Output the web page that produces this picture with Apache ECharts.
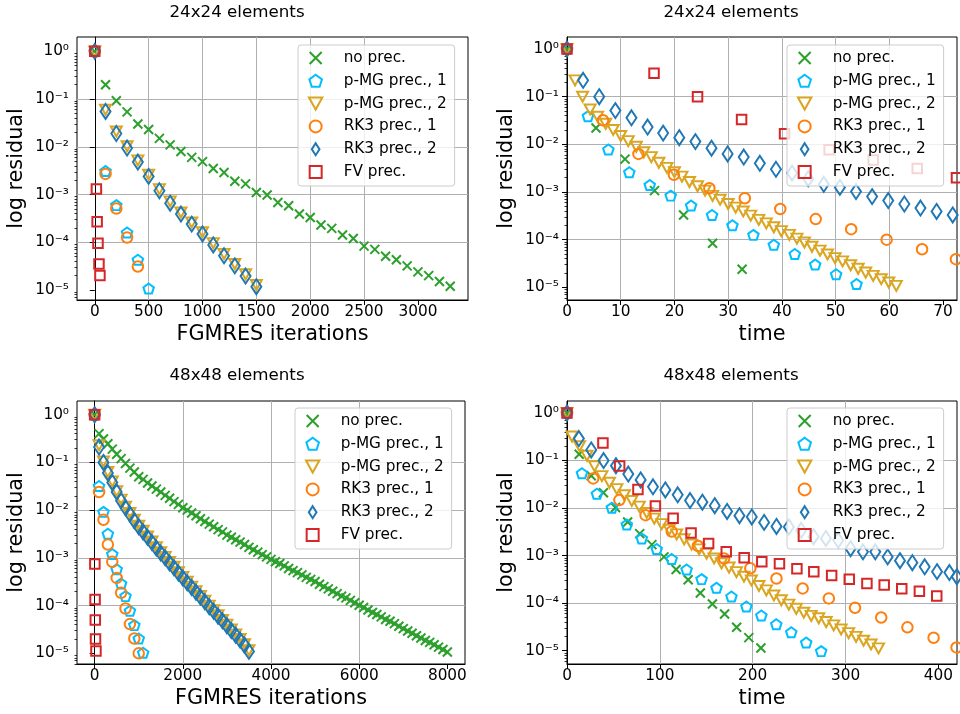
<!DOCTYPE html>
<html><head><meta charset="utf-8">
<script src="https://cdn.jsdelivr.net/npm/echarts@6/dist/echarts.min.js"></script>
<style>html,body{margin:0;padding:0;background:#fff}#c{width:960px;height:714px}</style>
</head><body><div id="c"></div><script>
// ---------------- DATA ----------------
const SERIES_NAMES = ['no prec.', 'p-MG prec., 1', 'p-MG prec., 2', 'RK3 prec., 1', 'RK3 prec., 2', 'FV prec.'];
const TITLES = ['24x24 elements', '24x24 elements', '48x48 elements', '48x48 elements'];
const X_NAMES = ['FGMRES iterations', 'time', 'FGMRES iterations', 'time'];
const Y_NAME = 'log residual';
const X_TICKS = [[0,500,1000,1500,2000,2500,3000],[0,10,20,30,40,50,60,70],[0,2000,4000,6000,8000],[0,100,200,300,400]];
const Y_TICKS = [1e-5,1e-4,1e-3,1e-2,1e-1,1];

// Panel 1: 24x24, iterations
const P1_NOPREC_X = [0,100,200,300,400,500,600,700,800,900,1000,1100,1200,1300,1400,1500,1600,1700,1800,1900,2000,2100,2200,2300,2400,2500,2600,2700,2800,2900,3000,3100,3200,3300];
const P1_NOPREC_Y = [1.0,0.20,0.092,0.054,0.030,0.023,0.015,0.011,0.0080,0.0060,0.0049,0.0035,0.0029,0.0019,0.00167,0.0011,0.00098,0.00068,0.00058,0.00039,0.00033,0.00023,0.000195,0.000142,0.00012,0.000083,0.000071,0.000051,0.000043,0.000032,0.000024,0.000020,0.000015,0.000012];
const P1_PMG1_X = [0,100,200,300,400,500];
const P1_PMG1_Y = [1.0,0.0031,0.0006,0.00016,0.000043,0.0000107];
const P1_PMG2_X = [0,100,200,300,400,500,600,700,800,900,1000,1100,1200,1300,1400,1500];
const P1_PMG2_Y = [1.0,0.06,0.021,0.0103,0.0052,0.0026,0.0013,0.00072,0.00042,0.00026,0.000162,0.000096,0.000057,0.000035,0.0000213,0.0000127];
const P1_RK31_X = [0,100,200,300,400];
const P1_RK31_Y = [1.0,0.0027,0.00051,0.000126,0.000031];
const P1_RK32_X = [0,100,200,300,400,500,600,700,800,900,1000,1100,1200,1300,1400,1500];
const P1_RK32_Y = [1.0,0.055,0.019,0.0094,0.0048,0.0024,0.0012,0.00066,0.00039,0.00024,0.000149,0.000088,0.000052,0.000032,0.0000196,0.0000117];
const P1_FV_X = [0,15,22,30,39,48];
const P1_FV_Y = [1.0,0.0013,0.00027,0.000095,0.000035,0.00002];

// Panel 2: 24x24, time
const P2_NOPREC_X = [0,5.4,10.8,16.3,21.7,27.1,32.6];
const P2_NOPREC_Y = [1.0,0.022,0.0049,0.00107,0.00033,0.000084,0.000024];
const P2_PMG1_X = [0,3.9,7.7,11.6,15.4,19.3,23.1,27.0,30.8,34.7,38.5,42.4,46.2,50.1,53.9];
const P2_PMG1_Y = [1.0,0.039,0.0078,0.0026,0.0014,0.00084,0.00052,0.00033,0.0002,0.000126,0.000078,0.00005,0.00003,0.0000188,0.0000117];
const P2_PMG2_X = [0,1.5,2.9,4.3,5.7,7.2,8.6,10.0,11.4,12.9,14.3,15.7,17.1,18.6,20.0,21.4,22.8,24.3,25.7,27.1,28.5,30.0,31.4,32.8,34.2,35.7,37.1,38.5,39.9,41.4,42.8,44.2,45.6,47.1,48.5,49.9,51.3,52.8,54.2,55.6,57.0,58.5,59.9,61.3];
const P2_PMG2_Y = [1.0,0.22,0.10,0.054,0.038,0.027,0.020,0.015,0.0117,0.0089,0.0068,0.0054,0.0041,0.0032,0.0026,0.0021,0.00162,0.00132,0.00107,0.00083,0.00069,0.00056,0.00047,0.00039,0.00032,0.00026,0.00022,0.000182,0.000151,0.000126,0.000105,0.000087,0.000071,0.000059,0.000049,0.000041,0.000035,0.000029,0.0000245,0.0000204,0.0000174,0.0000148,0.0000126,0.0000107];
const P2_RK31_X = [0,6.7,13.3,19.9,26.5,33.1,39.7,46.3,52.9,59.5,66.1,72.4];
const P2_RK31_Y = [1.0,0.032,0.0063,0.0023,0.0012,0.00074,0.00044,0.00027,0.000166,0.0001,0.000063,0.000039];
const P2_RK32_X = [0,3.0,6.0,9.0,12.0,15.0,17.9,20.9,23.9,26.9,29.9,32.9,35.9,38.9,41.9,44.9,47.8,50.8,53.8,56.8,59.8,62.8,65.8,68.8,71.8];
const P2_RK32_Y = [1.0,0.22,0.10,0.051,0.036,0.023,0.0172,0.0138,0.0114,0.0083,0.0063,0.0054,0.0040,0.0030,0.0025,0.0019,0.00145,0.00125,0.00102,0.0008,0.00066,0.00056,0.00046,0.00039,0.00033];
const P2_FV_X = [0,16.2,24.3,32.5,40.5,48.8,57.0,65.2,72.5];
const P2_FV_Y = [1.0,0.31,0.10,0.033,0.0167,0.0077,0.0047,0.0031,0.002];

// Panel 3: 48x48, iterations
const P3_NOPREC_X = [0,100,200,300,400,500,600,700,800,900,1000,1100,1200,1300,1400,1500,1600,1700,1800,1900,2000,2100,2200,2300,2400,2500,2600,2700,2800,2900,3000,3100,3200,3300,3400,3500,3600,3700,3800,3900,4000,4100,4200,4300,4400,4500,4600,4700,4800,4900,5000,5100,5200,5300,5400,5500,5600,5700,5800,5900,6000,6100,6200,6300,6400,6500,6600,6700,6800,6900,7000,7100,7200,7300,7400,7500,7600,7700,7800,7900,8000];
const P3_NOPREC_Y = [1.0,0.40,0.31,0.245,0.19,0.148,0.12,0.095,0.076,0.063,0.050,0.044,0.037,0.032,0.0275,0.024,0.0204,0.0178,0.0151,0.0132,0.0112,0.0100,0.0087,0.0076,0.0066,0.0058,0.0051,0.0045,0.0039,0.0035,0.0030,0.0027,0.0024,0.00214,0.0019,0.00166,0.00148,0.00132,0.00117,0.00105,0.00093,0.00083,0.00076,0.00068,0.0006,0.00054,0.00049,0.00044,0.00039,0.000355,0.00032,0.00028,0.00025,0.000224,0.0002,0.000178,0.000158,0.000145,0.000129,0.000115,0.000102,0.000091,0.000081,0.000072,0.000065,0.000058,0.000051,0.000047,0.000042,0.000037,0.000033,0.0000295,0.0000263,0.0000234,0.0000209,0.0000186,0.000017,0.0000151,0.0000135,0.000012,0.0000107];
const P3_PMG1_X = [0,100,200,300,400,500,600,700,800,900,1000,1100];
const P3_PMG1_Y = [1.0,0.032,0.0092,0.0032,0.0012,0.00058,0.00029,0.000158,0.000078,0.000039,0.0000205,0.0000103];
const P3_PMG2_X = [0,100,200,300,400,500,600,700,800,900,1000,1100,1200,1300,1400,1500,1600,1700,1800,1900,2000,2100,2200,2300,2400,2500,2600,2700,2800,2900,3000,3100,3200,3300,3400,3500];
const P3_PMG2_Y = [1.0,0.23,0.105,0.063,0.04,0.025,0.0166,0.0118,0.0087,0.0063,0.0047,0.0037,0.0028,0.0022,0.00168,0.00132,0.00105,0.00082,0.00065,0.0005,0.0004,0.000315,0.00025,0.0002,0.000159,0.000126,0.0001,0.00008,0.000063,0.00005,0.00004,0.0000315,0.000025,0.00002,0.0000155,0.0000116];
const P3_RK31_X = [0,100,200,300,400,500,600,700,800,900,1000];
const P3_RK31_Y = [1.0,0.024,0.0063,0.0019,0.00083,0.00038,0.000186,0.000087,0.000041,0.0000205,0.00001];
const P3_RK32_X = [0,100,200,300,400,500,600,700,800,900,1000,1100,1200,1300,1400,1500,1600,1700,1800,1900,2000,2100,2200,2300,2400,2500,2600,2700,2800,2900,3000,3100,3200,3300,3400,3500];
const P3_RK32_Y = [1.0,0.21,0.10,0.060,0.038,0.024,0.0158,0.0112,0.0083,0.0060,0.0045,0.0035,0.0027,0.0021,0.0016,0.00126,0.0010,0.00078,0.00062,0.00048,0.00038,0.0003,0.00024,0.00019,0.000151,0.00012,0.000095,0.000076,0.00006,0.000048,0.000038,0.00003,0.000024,0.000019,0.0000148,0.000011];
const P3_FV_X = [0,5,10,15,20,30];
const P3_FV_Y = [1.0,0.00074,0.000135,0.00005,0.00002,0.0000112];

// Panel 4: 48x48, time
const P4_NOPREC_X = [0,13.1,26.1,39.2,52.2,65.3,78.3,91.4,104.4,117.5,130.5,143.6,156.6,169.7,182.7,195.8,208.8];
const P4_NOPREC_Y = [1.0,0.135,0.048,0.021,0.0103,0.0051,0.0029,0.0017,0.00094,0.00051,0.00031,0.000163,0.000096,0.000059,0.000031,0.0000188,0.0000114];
const P4_PMG1_X = [0,16.1,32.2,48.3,64.4,80.5,96.6,112.7,128.8,144.9,161.0,177.1,193.2,209.3,225.4,241.5,257.6,273.7];
const P4_PMG1_Y = [1.0,0.054,0.020,0.0102,0.0045,0.0023,0.00138,0.00085,0.00051,0.00032,0.00021,0.000138,0.000085,0.000055,0.000036,0.0000245,0.0000148,0.0000098];
const P4_PMG2_X = [0,5.4,13.5,21.5,29.6,37.6,45.7,53.7,61.8,69.8,77.9,85.9,94.0,102.0,110.1,118.1,126.2,134.2,142.3,150.3,158.4,166.4,174.5,182.5,190.6,198.6,206.7,214.7,222.8,230.8,238.9,246.9,255.0,263.0,271.1,279.1,287.2,295.2,303.3,311.3,319.4,327.4,335.5];
const P4_PMG2_Y = [1.0,0.32,0.20,0.126,0.076,0.047,0.034,0.025,0.0186,0.0141,0.0107,0.0079,0.006,0.0046,0.0035,0.0028,0.0022,0.0017,0.00135,0.0011,0.00087,0.00069,0.00056,0.00045,0.00036,0.0003,0.00023,0.000186,0.000145,0.000115,0.000093,0.000076,0.000063,0.000054,0.000048,0.00004,0.000034,0.000028,0.0000234,0.0000195,0.0000162,0.0000135,0.0000112];
const P4_RK31_X = [0,28.2,56.4,84.6,112.8,141.0,169.2,197.4,225.6,253.8,282.0,310.2,338.4,366.6,394.8,419.5];
const P4_RK31_Y = [1.0,0.042,0.0147,0.0071,0.0032,0.0016,0.00087,0.00054,0.00033,0.000204,0.000126,0.00008,0.00005,0.000031,0.0000187,0.0000117];
const P4_RK32_X = [0,12.8,26.1,39.4,52.7,66.0,79.3,92.6,105.9,119.2,132.5,145.8,159.1,172.4,185.7,199.0,212.3,225.6,238.9,252.2,265.5,278.8,292.1,305.4,318.7,332.0,345.3,358.6,371.9,385.2,398.5,411.8,419.8];
const P4_RK32_Y = [1.0,0.29,0.167,0.10,0.078,0.052,0.039,0.028,0.024,0.019,0.0144,0.0133,0.0112,0.0085,0.0069,0.0065,0.005,0.0041,0.004,0.0034,0.0025,0.0023,0.0021,0.0014,0.0012,0.0012,0.00094,0.00078,0.00071,0.00058,0.00046,0.00044,0.00036];
const P4_FV_X = [0,38.7,56.7,76.4,95.2,114.3,133.6,152.5,171.5,190.8,209.8,228.8,247.6,265.8,285.0,304.0,323.0,341.6,360.5,379.5,398.2];
const P4_FV_Y = [1.0,0.234,0.077,0.0247,0.011,0.0061,0.003,0.0018,0.0012,0.0009,0.00074,0.00067,0.00053,0.00046,0.00038,0.00032,0.00026,0.00024,0.0002,0.000178,0.000141];

const PANELS = [
  [[P1_NOPREC_X,P1_NOPREC_Y],[P1_PMG1_X,P1_PMG1_Y],[P1_PMG2_X,P1_PMG2_Y],[P1_RK31_X,P1_RK31_Y],[P1_RK32_X,P1_RK32_Y],[P1_FV_X,P1_FV_Y]],
  [[P2_NOPREC_X,P2_NOPREC_Y],[P2_PMG1_X,P2_PMG1_Y],[P2_PMG2_X,P2_PMG2_Y],[P2_RK31_X,P2_RK31_Y],[P2_RK32_X,P2_RK32_Y],[P2_FV_X,P2_FV_Y]],
  [[P3_NOPREC_X,P3_NOPREC_Y],[P3_PMG1_X,P3_PMG1_Y],[P3_PMG2_X,P3_PMG2_Y],[P3_RK31_X,P3_RK31_Y],[P3_RK32_X,P3_RK32_Y],[P3_FV_X,P3_FV_Y]],
  [[P4_NOPREC_X,P4_NOPREC_Y],[P4_PMG1_X,P4_PMG1_Y],[P4_PMG2_X,P4_PMG2_Y],[P4_RK31_X,P4_RK31_Y],[P4_RK32_X,P4_RK32_Y],[P4_FV_X,P4_FV_Y]]
];

// ---------------- STYLE / LAYOUT ----------------
const FONT = 'DejaVu Sans';
const COLORS = ['#2ca02c','#00bfff','#daa520','#ff7f0e','#1f77b4','#d62728'];
const SYMBOLS = [
  'path://M0,0L10,10M10,0L0,10',
  'path://M50,0L97.55,34.55L79.39,90.45L20.61,90.45L2.45,34.55Z',
  'path://M0,0L10,0L5,9Z',
  'circle',
  'path://M3.5,0L7,5.5L3.5,11L0,5.5Z',
  'path://M0,0L10,0L10,10L0,10Z'
];
const SIZES = [[9,9],[10.5,10],[11,10],[10.5,10.5],[10,15],[9.5,9.5]];
const BORDERS = [2,2,2,2,2,2];
const GRIDS = [
  {left:77, top:37, width:391, height:263},
  {left:567, top:37, width:390, height:263},
  {left:77, top:401, width:388, height:263},
  {left:567, top:401, width:390, height:263}
];
const XRANGE = [[-165,3465],[0,72.6],[-400,8400],[0,420]];
const XSPLIT = [7,7,4,4];
const XSTEP = [500,10,2000,100];
const YLOG = [[-5.21,0.301],[-5.266,0.252],[-5.223,0.286],[-5.28,0.252]];
const LEGEND_POS = [{left:298, top:45},{left:787, top:45},{left:295, top:408},{left:787, top:408}];
const TITLE_POS = [[237,13],[731,13],[237,376],[731,376]];

const SUP = {'0':'⁰','1':'¹','2':'²','3':'³','4':'⁴','5':'⁵','6':'⁶','-':'⁻'};
function supStr(n){ return String(n).split('').map(c=>SUP[c]).join(''); }

const minorVals = [];
for (let k=-6;k<=0;k++) for (let m=2;m<=9;m++) minorVals.push(+(m*Math.pow(10,k)).toPrecision(3));

const grid=[], xAxis=[], yAxis=[], series=[], legend=[], graphic=[];
for (let p=0;p<4;p++){
  grid.push(Object.assign({show:true, borderColor:'#000', borderWidth:1, backgroundColor:'transparent'}, GRIDS[p]));
  const step = XSTEP[p];
  xAxis.push({
    type:'value', gridIndex:p, min:XRANGE[p][0], max:XRANGE[p][1], splitNumber:XSPLIT[p],
    name:X_NAMES[p], nameLocation:'middle', nameGap:24,
    nameTextStyle:{fontSize:20.8, fontFamily:FONT, color:'#000'},
    axisLine:{show:true, onZero:false, lineStyle:{color:'#000', width:1}},
    axisTick:{show:true, length:5, lineStyle:{color:'#000', width:1}, customValues:X_TICKS[p]},
    axisLabel:{fontSize:15.3, fontFamily:FONT, color:'#000', margin:5,
      formatter:(v)=>{ const r=v/step; return Math.abs(r-Math.round(r))<1e-6 ? String(Math.round(v)) : ''; }},
    splitLine:{show:true, showMinLine:false, showMaxLine:false, lineStyle:{color:'#b0b0b0', width:1}}
  });
  const ymin = Math.pow(10, YLOG[p][0]), ymax = Math.pow(10, YLOG[p][1]);
  yAxis.push({
    type:'log', logBase:10, gridIndex:p, min:ymin, max:ymax, splitNumber:5,
    name:Y_NAME, nameLocation:'middle', nameGap:50,
    nameTextStyle:{fontSize:20.8, fontFamily:FONT, color:'#000'},
    axisLine:{show:true, lineStyle:{color:'#000', width:1}},
    axisTick:{show:true, length:5, lineStyle:{color:'#000', width:1}, customValues:Y_TICKS},
    axisLabel:{fontSize:15.3, fontFamily:FONT, color:'#000', margin:8, showMinLabel:false, showMaxLabel:false,
      formatter:(v)=>{ const l=Math.log10(v), e=Math.round(l); return Math.abs(l-e)<1e-4 ? '10'+supStr(e) : ''; }},
    splitLine:{show:true, showMinLine:false, showMaxLine:false, lineStyle:{color:'#b0b0b0', width:1}}
  });
  yAxis.push({
    type:'log', logBase:10, gridIndex:p, min:ymin, max:ymax, position:'left',
    axisLine:{show:false}, axisLabel:{show:false}, splitLine:{show:false},
    axisTick:{show:true, length:2.5, lineStyle:{color:'#000', width:0.8}, customValues:minorVals.filter(v=>v>=ymin && v<=ymax)}
  });
  for (let s=0;s<6;s++){
    const [xs, ys] = PANELS[p][s];
    series.push({
      type:'scatter', name:SERIES_NAMES[s], xAxisIndex:p, yAxisIndex:2*p,
      data: xs.map((x,i)=>[x, ys[i]]),
      symbol:SYMBOLS[s], symbolSize:SIZES[s], symbolKeepAspect:false,
      itemStyle:{color:'rgba(0,0,0,0)', borderColor:COLORS[s], borderWidth:BORDERS[s], opacity:1},
      emphasis:{disabled:true}, animation:false, z:2+s*0.01
    });
  }
  legend.push(Object.assign({
    orient:'vertical', selectedMode:false,
    data: SERIES_NAMES.map((n,i)=>({name:n, icon:SYMBOLS[i]})),
    itemWidth:24, itemHeight:12, itemGap:4.8, padding:[4,8,5,10],
    backgroundColor:'rgba(255,255,255,0.8)', borderColor:'#cccccc', borderWidth:1, borderRadius:3,
    itemStyle:{borderWidth:2},
    textStyle:{fontSize:15.3, fontFamily:FONT, color:'#000', lineHeight:18, padding:[0,0,0,11]}
  }, LEGEND_POS[p]));
  graphic.push({type:'text', x:TITLE_POS[p][0], y:TITLE_POS[p][1], silent:true,
    style:{text:TITLES[p], fill:'#000', font:'16.7px "DejaVu Sans"', textAlign:'center', textVerticalAlign:'middle', align:'center', verticalAlign:'middle'}});
}

const chart = echarts.init(document.getElementById('c'), null, {renderer:'canvas'});
chart.setOption({animation:false, backgroundColor:'#fff', textStyle:{fontFamily:FONT}, grid, xAxis, yAxis, series, legend, graphic});
</script></body></html>
